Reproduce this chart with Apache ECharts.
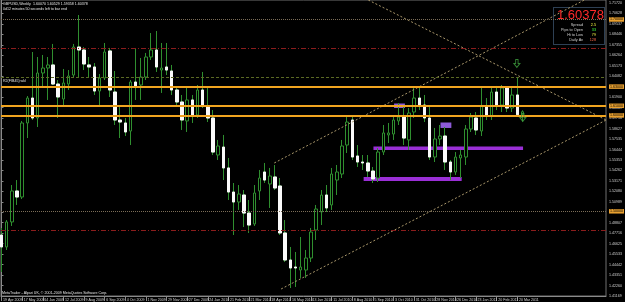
<!DOCTYPE html>
<html><head><meta charset="utf-8">
<script src="https://cdn.jsdelivr.net/npm/echarts@6/dist/echarts.min.js"></script>
<style>html,body{margin:0;padding:0;background:#000;}#c{width:625px;height:302px;}</style>
</head><body><div id="c"></div>
<script>
// GBPUSD weekly, one bar per week starting 19 Apr 2009
const opens = [1.4753,1.4628,1.4889,1.5212,1.5149,1.5921,1.6181,1.5973,1.6442,1.6494,1.6526,1.6327,1.6171,1.6327,1.6421,1.6713,1.6682,1.6526,1.6505,1.6254,1.6390,1.6672,1.6244,1.5952,1.5921,1.5837,1.6348,1.6317,1.6400,1.6609,1.6682,1.6473,1.6505,1.6463,1.6265,1.6140,1.5942,1.6161,1.6004,1.6265,1.6098,1.5973,1.5587,1.5670,1.5452,1.5201,1.5097,1.5170,1.4982,1.4868,1.5212,1.5410,1.5285,1.5358,1.5264,1.4774,1.4492,1.4419,1.4388,1.4388,1.4513,1.4805,1.4993,1.5170,1.5066,1.5326,1.5389,1.5691,1.5952,1.5577,1.5514,1.5504,1.5420,1.5347,1.5618,1.5796,1.5806,1.5942,1.5983,1.5744,1.6035,1.6181,1.6108,1.5973,1.5566,1.5754,1.5785,1.5514,1.5410,1.5556,1.5566,1.5858,1.5973,1.5837,1.6098,1.5994,1.6244,1.6108,1.6286,1.6077,1.6213,1.6007];
const highs = [1.4826,1.4909,1.5274,1.5326,1.5942,1.6202,1.6661,1.6609,1.6630,1.6609,1.6745,1.6369,1.6484,1.6473,1.6745,1.7047,1.6713,1.6609,1.6546,1.6432,1.6755,1.6703,1.6463,1.6108,1.5973,1.6369,1.6703,1.6599,1.6651,1.6859,1.6880,1.6755,1.6755,1.6526,1.6286,1.6213,1.6286,1.6213,1.6317,1.6453,1.6286,1.6056,1.5744,1.5796,1.5556,1.5295,1.5274,1.5222,1.5118,1.5274,1.5431,1.5504,1.5452,1.5483,1.5347,1.4909,1.4628,1.4576,1.4732,1.4597,1.4826,1.5066,1.5222,1.5274,1.5452,1.5483,1.5744,1.5983,1.6004,1.5691,1.5587,1.5587,1.5462,1.5660,1.5900,1.5921,1.6004,1.6129,1.6108,1.6077,1.6296,1.6286,1.6213,1.6108,1.5869,1.5900,1.5879,1.5535,1.5618,1.5639,1.5900,1.6025,1.6035,1.6286,1.6181,1.6286,1.6307,1.6317,1.6296,1.6286,1.6400,1.6053];
const lows = [1.4367,1.4597,1.4847,1.5066,1.5128,1.5764,1.5952,1.5879,1.6286,1.6161,1.6317,1.5973,1.6108,1.6265,1.6400,1.6400,1.6473,1.6400,1.6213,1.6108,1.6369,1.6192,1.5900,1.5764,1.5785,1.5691,1.6161,1.6161,1.6369,1.6578,1.6453,1.6234,1.6421,1.6213,1.6108,1.5848,1.5827,1.5921,1.5973,1.6077,1.5931,1.5587,1.5535,1.5326,1.5118,1.4753,1.5014,1.4836,1.4774,1.4847,1.5118,1.5295,1.5035,1.5222,1.4753,1.4471,1.4200,1.4211,1.4305,1.4305,1.4471,1.4701,1.4857,1.4993,1.5014,1.5170,1.5347,1.5608,1.5535,1.5462,1.5431,1.5358,1.5295,1.5306,1.5587,1.5712,1.5744,1.5900,1.5691,1.5639,1.5973,1.6056,1.5931,1.5535,1.5514,1.5691,1.5431,1.5326,1.5379,1.5347,1.5483,1.5827,1.5796,1.5785,1.5952,1.5952,1.6056,1.6035,1.6035,1.6035,1.5994,1.5936];
const closes = [1.4628,1.4889,1.5212,1.5149,1.5921,1.6181,1.5973,1.6442,1.6494,1.6526,1.6327,1.6192,1.6338,1.6411,1.6713,1.6682,1.6536,1.6505,1.6254,1.6390,1.6661,1.6265,1.5952,1.5931,1.5827,1.6348,1.6307,1.6400,1.6609,1.6682,1.6505,1.6494,1.6473,1.6265,1.6140,1.5952,1.6161,1.6004,1.6265,1.6098,1.5973,1.5618,1.5681,1.5452,1.5201,1.5097,1.5180,1.4982,1.4857,1.5191,1.5347,1.5326,1.5368,1.5243,1.4774,1.4492,1.4409,1.4409,1.4419,1.4513,1.4784,1.5024,1.5170,1.5035,1.5389,1.5410,1.5681,1.5931,1.5566,1.5514,1.5504,1.5420,1.5337,1.5618,1.5817,1.5817,1.5952,1.5983,1.5764,1.6025,1.6181,1.6108,1.5973,1.5566,1.5754,1.5785,1.5514,1.5410,1.5566,1.5587,1.5858,1.5983,1.5848,1.6098,1.5994,1.6244,1.6108,1.6286,1.6077,1.6213,1.6007,1.6038];

const xTickIndex = [0,4,8,12,16,20,24,28,32,36,40,44,48,52,56,60,64,68,72,76,80,84,88,92,96,100];
const xTickLabels = ['19 Apr 2009','17 May 2009','14 Jun 2009','12 Jul 2009','9 Aug 2009','6 Sep 2009','4 Oct 2009','1 Nov 2009','29 Nov 2009','27 Dec 2009','24 Jan 2010','21 Feb 2010','21 Mar 2010','18 Apr 2010','16 May 2010','13 Jun 2010','11 Jul 2010','8 Aug 2010','5 Sep 2010','3 Oct 2010','31 Oct 2010','28 Nov 2010','26 Dec 2010','23 Jan 2011','20 Feb 2011','20 Mar 2011'];
const yTicks = [1.41169,1.42260,1.43351,1.44442,1.45533,1.46625,1.47716,1.48807,1.49898,1.50989,1.52080,1.53171,1.54262,1.55353,1.56444,1.57535,1.58627,1.59718,1.60809,1.61900,1.62991,1.64082,1.65173,1.66264,1.67355,1.68446,1.69537,1.70628,1.71720];

// horizontal price levels drawn on the chart
const dottedLevels = [1.7005, 1.4972];
const dashDotLevels = [1.6651, 1.4774];
const orangeLevels = [1.6327, 1.6088, 1.6046];
const paleLevel = 1.6067;
const olivLevel = 1.6354;
const greyLevel = 1.5994;
// trend channel lines [barIndex, price]
const trendA = [[71.1, 1.7203], [117.2, 1.5952]];
const trendB = [[52.88, 1.5504], [112.96, 1.7203]];
const trendC = [[54.2, 1.4190], [117.2, 1.5952]];
// rectangles [x1, x2, priceTop, priceBottom]
const rectX1 = [72.1, 70.2, 76.1, 85.1];
const rectX2 = [101.1, 89.2, 78.2, 87.2];
const rectTop = [1.5676, 1.5358, 1.6124, 1.5926];
const rectBottom = [1.5639, 1.5316, 1.6077, 1.5869];
// arrow signals [barIndex, price]
const arrows = [[99.9, 1.6541], [101.05, 1.5978]];

const FONT = '"Liberation Sans Narrow", "Liberation Sans", Arial, sans-serif';
const GREEN = '#2f8f2f';
const candleData = opens.map((o, i) => [i, o, closes[i], lows[i], highs[i]]);
const bearBodies = [];
opens.forEach((o, i) => { if (closes[i] < o) bearBodies.push([i, o, closes[i], closes[i], o]); });

const lblStyle = {show: true, position: 'end', distance: 3, fontSize: 3.6, fontFamily: FONT, color: '#000',
  backgroundColor: '#e8a030', padding: [0.5, 1, 0, 1], formatter: p => p.value.toFixed(5)};
const mlData = [];
dottedLevels.forEach(v => mlData.push({yAxis: v, lineStyle: {color: '#7c6e58', type: [1, 1], width: 1}, label: lblStyle}));
dashDotLevels.forEach(v => mlData.push({yAxis: v, lineStyle: {color: '#8b1c1c', type: [5, 2, 1, 2], width: 1}, label: {show: false}}));
mlData.push({yAxis: olivLevel, lineStyle: {color: '#5c6a24', type: [3, 2], width: 1}, label: {show: false}});
mlData.push({yAxis: greyLevel, lineStyle: {color: '#6c6c6c', type: [1, 1], width: 1}, label: {show: false}});
mlData.push({yAxis: paleLevel, lineStyle: {color: '#f3e3a8', type: 'solid', width: 1}, label: {show: false}});
orangeLevels.forEach(v => mlData.push({yAxis: v, lineStyle: {color: '#f0a420', type: 'solid', width: 2}, label: lblStyle}));

const areaData = rectX1.map((x, i) => [
  {coord: [x, rectTop[i]], itemStyle: {color: i < 2 ? '#9a2fd6' : '#8d5bd8', opacity: 1}},
  {coord: [rectX2[i], rectBottom[i]]}
]);

const trendSeries = [trendA, trendB, trendC].map(d => ({
  type: 'line', data: d, symbol: 'none', z: 4, silent: true,
  lineStyle: {color: '#a8966a', width: 1, type: [2, 2]}
}));

const txt = (t, x, y, fill, size, align, family) => ({type: 'text', x: x, y: y, silent: true,
  style: {text: t, fill: fill, font: size + 'px ' + (family || FONT), textAlign: align || 'left', textVerticalAlign: 'top'}});

const chart = echarts.init(document.getElementById('c'), null, {renderer: 'canvas', width: 625, height: 302});
chart.setOption({
  animation: false,
  backgroundColor: '#000',
  grid: {left: 1, top: 0, width: 611, height: 296, show: true, borderColor: '#707070', borderWidth: 1, backgroundColor: '#000'},
  xAxis: {type: 'value', min: -0.096, max: 117.18, position: 'bottom',
    axisLine: {show: true, lineStyle: {color: '#8a8a8a'}},
    axisTick: {show: true, customValues: xTickIndex, length: 5, lineStyle: {color: '#8a8a8a'}},
    axisLabel: {customValues: xTickIndex, showMinLabel: true, showMaxLabel: true, hideOverlap: false,
      color: '#d8d8d8', fontSize: 3.6, fontFamily: FONT, align: 'left', margin: 1.5,
      padding: [0, 0, 0, 1.5], formatter: v => { const k = xTickIndex.indexOf(Math.round(v)); return k >= 0 ? xTickLabels[k] : ''; }},
    splitLine: {show: false}},
  yAxis: {type: 'value', position: 'right', min: 1.41169, max: 1.72033, scale: true,
    axisLine: {show: true, lineStyle: {color: '#8a8a8a'}},
    axisTick: {show: true, customValues: yTicks, length: 2, lineStyle: {color: '#8a8a8a'}},
    axisLabel: {customValues: yTicks, showMinLabel: true, showMaxLabel: true, color: '#d0d0d0', fontSize: 3.6,
      fontFamily: FONT, margin: 3, formatter: v => v.toFixed(5)},
    splitLine: {show: false}},
  series: [
    {type: 'line', data: [], z: 1, silent: true, markArea: {silent: true, data: areaData}},
    {type: 'candlestick', data: candleData, barWidth: 3, z: 2, silent: true,
      itemStyle: {color: '#000', color0: '#fff', borderColor: GREEN, borderColor0: GREEN, borderWidth: 1}},
    {type: 'candlestick', data: bearBodies, barWidth: 3, z: 3, silent: true,
      itemStyle: {color: '#000', color0: '#fafafa', borderColor: GREEN, borderColor0: '#fafafa', borderWidth: 1}},
    ...trendSeries,
    {type: 'line', data: [], z: 5, silent: true, markLine: {silent: true, symbol: ['none', 'none'],
      lineStyle: {type: 'solid'}, data: mlData}},
    {type: 'scatter', data: arrows, z: 6, silent: true, symbol: 'path://M3,0 L7,0 L7,5 L10,5 L5,10 L0,5 L3,5 Z',
      symbolSize: [6, 8], itemStyle: {color: 'rgba(0,0,0,0)', borderColor: '#3fa03f', borderWidth: 1}}
  ],
  graphic: [
    txt('GBPUSD,Weekly  1.60070 1.60529 1.59358 1.60378', 3, 2, '#e6e6e6', 3.6),
    txt('0d12 minutes 50 seconds left to bar end', 3, 6.5, '#e6e6e6', 3.6),
    txt('R2(FIB45) wkl', 3, 79, '#e6e6e6', 3.6),
    txt('MetaTrader - Alpari UK, \u00a9 2001-2009 MetaQuotes Software Corp.', 2, 291, '#e6e6e6', 3.6),
    {type: 'rect', silent: true, shape: {x: 553.5, y: 7.5, width: 51, height: 37},
      style: {fill: '#000', stroke: '#5d80a8', lineWidth: 1, lineDash: [1, 1]}},
    txt('1.60378', 557, 9, '#ff2a2a', 13, 'left', '"Liberation Sans", Arial, sans-serif'),
    txt('Spread', 583, 23, '#d0d0d0', 3.8, 'right'),
    txt('2.5', 596, 23, '#ffff40', 3.8, 'right'),
    txt('Pips to Open', 583, 28, '#d0d0d0', 3.8, 'right'),
    txt('33', 596, 28, '#40ff40', 3.8, 'right'),
    txt('Hi to Low', 583, 33, '#d0d0d0', 3.8, 'right'),
    txt('79', 596, 33, '#e8e840', 3.8, 'right'),
    txt('Daily Av', 583, 38, '#d0d0d0', 3.8, 'right'),
    txt('128', 596, 38, '#ff6a4a', 3.8, 'right')
  ]
});
</script></body></html>
